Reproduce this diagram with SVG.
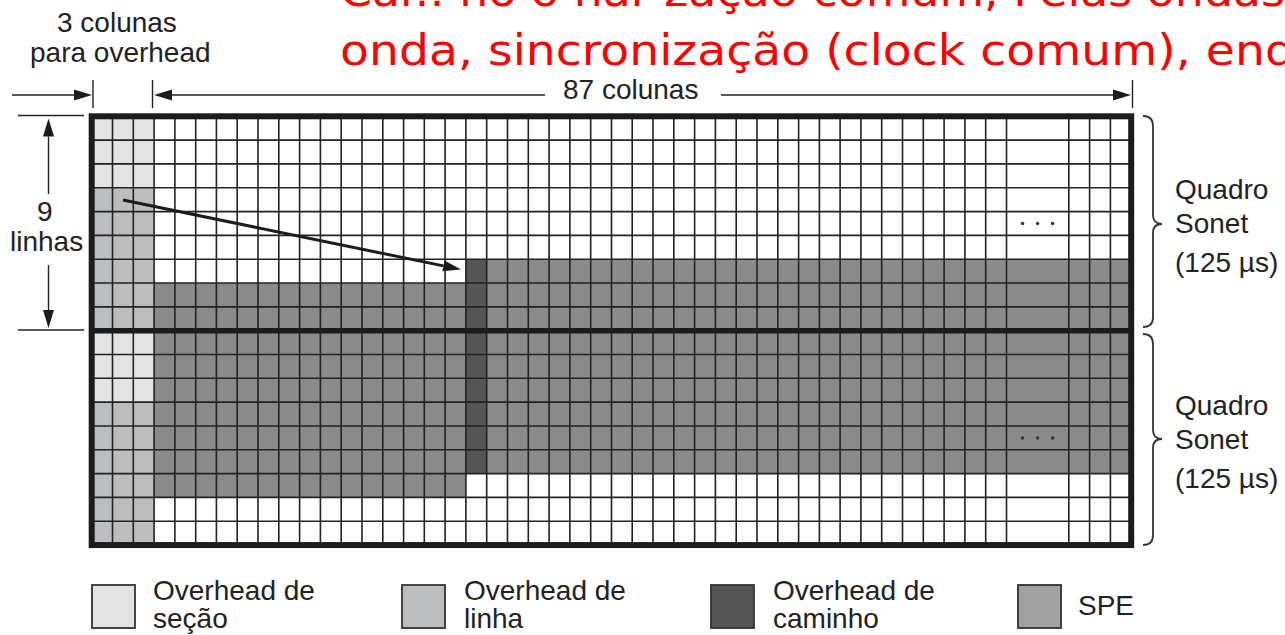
<svg xmlns="http://www.w3.org/2000/svg" width="1285" height="635" viewBox="0 0 1285 635">
<style>
.t{font-family:"Liberation Sans",Arial,sans-serif;font-size:28px;fill:#222}
.red{font-family:"DejaVu Sans",sans-serif;font-size:43px;fill:#ff0000}
.sec{fill:#e3e3e3}
.lin{fill:#bcbdbf}
.pth{fill:#555555}
.spe{fill:#8a8a8a}
.spel{fill:#a0a1a0}
.grid{fill:none;stroke:#222;stroke-width:1.6}
.border{fill:none;stroke:#1c1c1c;stroke-width:6}
.dim{fill:none;stroke:#222;stroke-width:1.4}
.brace{fill:none;stroke:#333;stroke-width:1.8}
.lbox{stroke:#333;stroke-width:1.8}
</style>
<defs>
<marker id="ah" markerUnits="userSpaceOnUse" markerWidth="20" markerHeight="12" refX="0" refY="6" orient="auto" viewBox="0 0 18 12" overflow="visible">
<path d="M0,0.5 L18,6 L0,11.5 z" fill="#1c1c1c"/>
</marker>
</defs>

<g id="title">
<text class="red" x="340" y="6" textLength="945" lengthAdjust="spacingAndGlyphs">Car.: no o nar zação comum, Pelas ondas</text>
<text class="red" x="340" y="65" textLength="955" lengthAdjust="spacingAndGlyphs">onda, sincronização (clock comum), enq</text>
</g>

<g id="frame">
<rect class="sec" x="91.7" y="116.3" width="62.37" height="71.46"/>
<rect class="lin" x="91.7" y="187.76" width="62.37" height="142.92"/>
<rect class="sec" x="91.7" y="330.68" width="62.37" height="71.46"/>
<rect class="lin" x="91.7" y="402.14" width="62.37" height="142.92"/>
<rect class="spe" x="154.07" y="283.04" width="311.85" height="214.38"/>
<rect class="pth" x="465.92" y="259.22" width="20.79" height="214.38"/>
<rect class="spe" x="486.71" y="259.22" width="644.49" height="214.38"/>
<path class="grid" d="M112.5,116.3V545.1M133.3,116.3V545.1M154.1,116.3V545.1M174.9,116.3V545.1M195.7,116.3V545.1M216.4,116.3V545.1M237.2,116.3V545.1M258,116.3V545.1M278.8,116.3V545.1M299.6,116.3V545.1M320.4,116.3V545.1M341.2,116.3V545.1M362,116.3V545.1M382.8,116.3V545.1M403.6,116.3V545.1M424.3,116.3V545.1M445.1,116.3V545.1M465.9,116.3V545.1M486.7,116.3V545.1M507.5,116.3V545.1M528.3,116.3V545.1M549.1,116.3V545.1M569.9,116.3V545.1M590.7,116.3V545.1M611.5,116.3V545.1M632.2,116.3V545.1M653,116.3V545.1M673.8,116.3V545.1M694.6,116.3V545.1M715.4,116.3V545.1M736.2,116.3V545.1M757,116.3V545.1M777.8,116.3V545.1M798.6,116.3V545.1M819.4,116.3V545.1M840.1,116.3V545.1M860.9,116.3V545.1M881.7,116.3V545.1M902.5,116.3V545.1M923.3,116.3V545.1M944.1,116.3V545.1M964.9,116.3V545.1M985.7,116.3V545.1M1006.5,116.3V545.1M1068.8,116.3V545.1M1089.6,116.3V545.1M1110.4,116.3V545.1
M91.7,140.1H1131.2M91.7,163.9H1131.2M91.7,187.8H1131.2M91.7,211.6H1131.2M91.7,235.4H1131.2M91.7,259.2H1131.2M91.7,283H1131.2M91.7,306.9H1131.2M91.7,354.5H1131.2M91.7,378.3H1131.2M91.7,402.1H1131.2M91.7,426H1131.2M91.7,449.8H1131.2M91.7,473.6H1131.2M91.7,497.4H1131.2M91.7,521.2H1131.2"/>
<rect class="border" x="91.7" y="116.3" width="1039.5" height="428.76"/>
<line x1="91.7" y1="330.68" x2="1131.2" y2="330.68" stroke="#1c1c1c" stroke-width="5.5"/>
<g fill="#333">
<circle cx="1022.6" cy="223.5" r="1.7"/><circle cx="1037.6" cy="223.5" r="1.7"/><circle cx="1052.6" cy="223.5" r="1.7"/>
<circle cx="1022.6" cy="438" r="1.7"/><circle cx="1037.6" cy="438" r="1.7"/><circle cx="1052.6" cy="438" r="1.7"/>
</g>
</g>

<g id="connectors">
<line x1="123" y1="200" x2="443.4" y2="265.9" stroke="#1c1c1c" stroke-width="3" marker-end="url(#ah)"/>
<line class="dim" x1="12" y1="95" x2="74" y2="95" marker-end="url(#ah)"/>
<line class="dim" x1="545" y1="95" x2="172" y2="95" marker-end="url(#ah)"/>
<line class="dim" x1="721" y1="95" x2="1113" y2="95" marker-end="url(#ah)"/>
<line class="dim" x1="93" y1="80" x2="93" y2="108"/>
<line class="dim" x1="152.5" y1="80" x2="152.5" y2="108"/>
<line class="dim" x1="1132.5" y1="80" x2="1132.5" y2="108"/>
<line class="dim" x1="18" y1="115.5" x2="84" y2="115.5"/>
<line class="dim" x1="18" y1="330" x2="84" y2="330"/>
<line class="dim" x1="48.5" y1="194" x2="48.5" y2="136.5" marker-end="url(#ah)"/>
<line class="dim" x1="48.5" y1="265" x2="48.5" y2="310" marker-end="url(#ah)"/>
<path class="brace" d="M1143,116 Q1153,116 1153,126 L1153,215 Q1153,224 1162,224 Q1153,224 1153,233 L1153,317 Q1153,327 1143,327"/>
<path class="brace" d="M1143,334 Q1153,334 1153,344 L1153,430 Q1153,439 1162,439 Q1153,439 1153,448 L1153,535 Q1153,545 1143,545"/>
</g>

<g id="labels">
<text class="t" x="57" y="32">3 colunas</text>
<text class="t" x="30" y="62">para overhead</text>
<text class="t" x="563" y="99">87 colunas</text>
<text class="t" x="37" y="221">9</text>
<text class="t" x="10" y="251">linhas</text>
<text class="t" x="1175" y="199">Quadro</text>
<text class="t" x="1175" y="233">Sonet</text>
<text class="t" x="1175" y="272">(125 µs)</text>
<text class="t" x="1175" y="415">Quadro</text>
<text class="t" x="1175" y="449">Sonet</text>
<text class="t" x="1175" y="488">(125 µs)</text>
</g>

<g id="legend-secao">
<rect class="lbox sec" x="92" y="585" width="43" height="43"/>
<text class="t" x="153" y="600">Overhead de</text>
<text class="t" x="153" y="628">seção</text>
</g>
<g id="legend-linha">
<rect class="lbox lin" x="402" y="585" width="43" height="43"/>
<text class="t" x="464" y="600">Overhead de</text>
<text class="t" x="464" y="628">linha</text>
</g>
<g id="legend-caminho">
<rect class="lbox pth" x="711" y="585" width="43" height="43"/>
<text class="t" x="773" y="600">Overhead de</text>
<text class="t" x="773" y="628">caminho</text>
</g>
<g id="legend-spe">
<rect class="lbox spel" x="1018" y="585" width="43" height="43"/>
<text class="t" x="1078" y="615">SPE</text>
</g>
</svg>
